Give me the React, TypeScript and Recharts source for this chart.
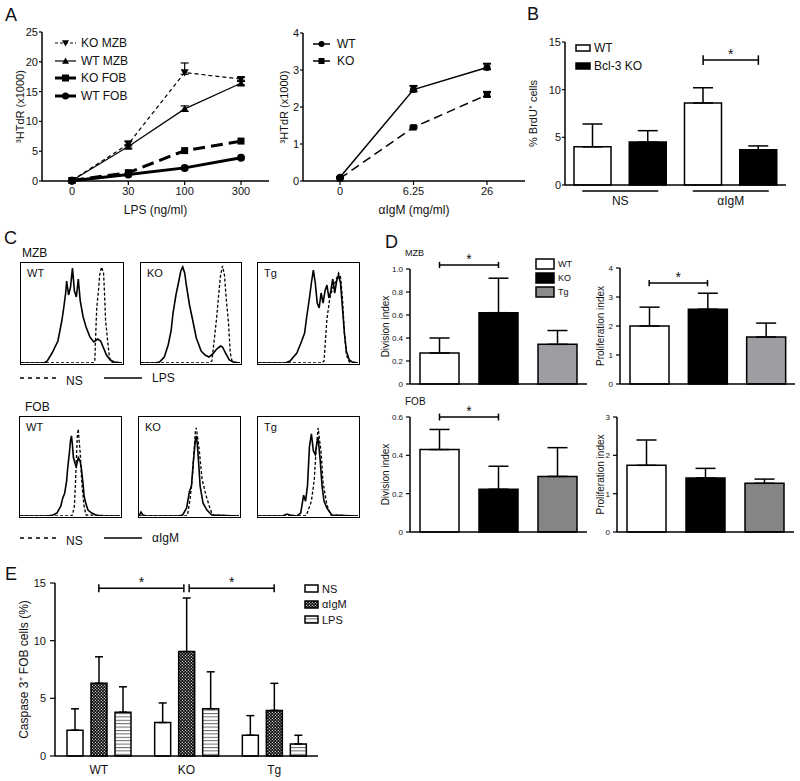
import React from "react";
import {
  Bar,
  BarChart,
  Cell,
  ErrorBar,
  Legend,
  Line,
  LineChart,
  ReferenceLine,
  XAxis,
  YAxis,
} from "recharts";

const FONT = "'Liberation Sans', Arial, Helvetica, sans-serif";

// ---------- A: 3H-thymidine uptake ----------
const lpsDoses = ["0", "30", "100", "300"];
const koMzb = [0.1, 6.2, 18.2, 17.1];
const koMzbErr = [[0, 0], [0.3, 0.5], [0.3, 1.6], [0.2, 0.3]];
const wtMzb = [0.1, 5.8, 12.1, 16.4];
const wtMzbErr = [[0, 0], [0.3, 0.3], [0.4, 0.5], [0.3, 0.3]];
const koFob = [0.1, 1.4, 5.1, 6.7];
const wtFob = [0.05, 1.1, 2.2, 3.9];

const igmDoses = ["0", "6.25", "26"];
const wtIgm = [0.1, 2.47, 3.07];
const wtIgmErr = [[0, 0], [0.05, 0.1], [0.05, 0.1]];
const koIgm = [0.07, 1.45, 2.33];
const koIgmErr = [[0, 0], [0.02, 0.03], [0.05, 0.08]];

// ---------- B: BrdU ----------
const brduCats = ["WT NS", "KO NS", "WT αIgM", "KO αIgM"];
const brduGroup = ["NS", "NS", "αIgM", "αIgM"];
const brduGenotype = ["WT", "KO", "WT", "KO"];
const brduMean = [4.0, 4.5, 8.6, 3.7];
const brduErr = [2.4, 1.2, 1.6, 0.4];

// ---------- C: CFSE histograms (x, % of max) ----------
const mzbWtNs = [[0, 0], [74, 0], [76, 2], [77, 30], [78, 55], [80, 75], [81, 88], [83, 96], [85, 90], [86, 70], [87, 44], [89, 24], [91, 6], [93, 1], [104, 0]];
const mzbWtLps = [[0, 0], [24, 0], [27, 2], [32, 10], [38, 22], [42, 42], [44, 55], [46, 70], [47, 82], [49, 68], [51, 76], [53, 95], [55, 72], [57, 66], [59, 84], [61, 62], [64, 46], [67, 36], [71, 26], [75, 21], [79, 24], [82, 22], [85, 15], [88, 8], [92, 3], [96, 1], [104, 0]];
const mzbKoNs = [[0, 0], [70, 0], [73, 2], [76, 28], [78, 46], [80, 68], [82, 88], [84, 97], [86, 88], [88, 62], [90, 42], [92, 10], [94, 1], [102, 0]];
const mzbKoLps = [[0, 0], [14, 0], [19, 1], [24, 6], [28, 18], [31, 32], [33, 50], [36, 68], [39, 82], [41, 92], [43, 96], [45, 90], [47, 76], [50, 58], [53, 44], [57, 25], [62, 12], [66, 8], [70, 6], [74, 9], [78, 14], [82, 17], [84, 16], [87, 10], [91, 3], [95, 1], [102, 0]];
const mzbTgNs = [[0, 0], [66, 0], [68, 2], [71, 44], [74, 65], [77, 75], [80, 82], [83, 90], [85, 86], [87, 65], [89, 30], [91, 8], [94, 1], [103, 0]];
const mzbTgLps = [[0, 0], [28, 0], [33, 2], [40, 10], [45, 22], [48, 30], [50, 45], [53, 65], [55, 80], [57, 93], [59, 80], [61, 60], [63, 55], [65, 70], [67, 60], [69, 72], [71, 78], [73, 65], [75, 72], [77, 84], [79, 70], [81, 82], [83, 88], [85, 80], [87, 55], [89, 30], [91, 12], [94, 3], [97, 1], [103, 0]];
const fobWtNs = [[0, 0], [52, 0], [54, 1], [56, 10], [57, 30], [58, 57], [59, 80], [60, 88], [61, 75], [62, 64], [63, 45], [64, 30], [66, 10], [68, 1], [103, 0]];
const fobWtIgm = [[0, 0], [28, 0], [34, 1], [38, 3], [42, 10], [44, 18], [46, 23], [48, 35], [49, 47], [51, 65], [52, 76], [53, 81], [54, 72], [55, 59], [57, 52], [58, 50], [60, 59], [62, 55], [63, 50], [65, 32], [66, 20], [68, 12], [70, 6], [74, 3], [78, 1], [85, 0], [103, 0]];
const fobKoNs = [[0, 0], [48, 0], [50, 1], [53, 20], [55, 40], [57, 70], [58, 85], [59, 89], [60, 82], [62, 67], [65, 37], [69, 21], [73, 8], [76, 1], [103, 0]];
const fobKoIgm = [[0, 0], [2, 4], [4, 1], [8, 0], [40, 0], [45, 1], [49, 8], [52, 25], [54, 30], [56, 55], [58, 76], [59, 81], [60, 73], [61, 60], [63, 30], [66, 13], [70, 6], [75, 1], [103, 0]];
const fobTgNs = [[0, 0], [48, 0], [50, 1], [55, 15], [58, 37], [60, 70], [62, 89], [63, 80], [65, 64], [67, 34], [71, 11], [75, 1], [103, 0]];
const fobTgIgm = [[0, 0], [25, 0], [30, 2], [33, 1], [40, 0], [44, 3], [46, 15], [47, 21], [49, 15], [51, 31], [53, 70], [55, 83], [57, 66], [59, 62], [61, 76], [62, 78], [64, 57], [66, 30], [68, 15], [71, 8], [76, 1], [103, 0]];
const histXTicks = [4, 12, 16, 19, 21, 23, 24, 26, 27, 35, 39, 42, 44, 46, 47, 49, 50, 58, 62, 65, 67, 69, 70, 72, 73, 81, 85, 88, 90, 92, 93, 95, 96];
const histYTicks = [20, 40, 60, 80];

// ---------- D: division / proliferation index ----------
const dGenotypes = ["WT", "KO", "Tg"];
const mzbDiv = [0.27, 0.62, 0.345];
const mzbDivErr = [0.13, 0.3, 0.12];
const mzbProlif = [2.0, 2.58, 1.62];
const mzbProlifErr = [0.65, 0.55, 0.48];
const fobDiv = [0.43, 0.223, 0.29];
const fobDivErr = [0.105, 0.12, 0.15];
const fobProlif = [1.74, 1.41, 1.27];
const fobProlifErr = [0.66, 0.25, 0.11];

// ---------- E: caspase 3 ----------
const casGroups = ["WT", "KO", "Tg"];
const casPos = [0.5, 1.5, 2.5];
const casNs = [2.24, 2.9, 1.8];
const casNsErr = [1.85, 1.7, 1.7];
const casIgm = [6.3, 9.05, 3.95];
const casIgmErr = [2.3, 4.65, 2.35];
const casLps = [3.8, 4.1, 1.05];
const casLpsErr = [2.2, 3.2, 0.75];

const lpsData = lpsDoses.map((dose, i) => ({
  dose,
  koMzb: koMzb[i],
  koMzbErr: koMzbErr[i],
  wtMzb: wtMzb[i],
  wtMzbErr: wtMzbErr[i],
  koFob: koFob[i],
  wtFob: wtFob[i],
}));
const igmData = igmDoses.map((dose, i) => ({
  dose,
  wt: wtIgm[i],
  wtErr: wtIgmErr[i],
  ko: koIgm[i],
  koErr: koIgmErr[i],
}));
const brduData = brduCats.map((cat, i) => ({
  cat,
  group: brduGroup[i],
  geno: brduGenotype[i],
  v: brduMean[i],
  e: [0, brduErr[i]],
}));
const casData = casGroups.map((g, i) => ({
  g,
  pos: casPos[i],
  ns: casNs[i],
  nsErr: [0, casNsErr[i]],
  igm: casIgm[i],
  igmErr: [0, casIgmErr[i]],
  lps: casLps[i],
  lpsErr: [0, casLpsErr[i]],
}));
const indexData = (vals: number[], errs: number[]) =>
  dGenotypes.map((g, i) => ({ g, v: vals[i], e: [0, errs[i]] }));
const pts = (arr: number[][]) => arr.map(([x, y]) => ({ x, y }));

const axisLine = { stroke: "#000", strokeWidth: 1.5 };
const tickLine = { stroke: "#000", strokeWidth: 1.2 };
const tickText = (size: number) => ({ fontSize: size, fill: "#111", fontFamily: FONT });
const yLabel = (value: string, offset: number, size: number) => ({
  value,
  angle: -90,
  position: "insideLeft",
  offset,
  style: { textAnchor: "middle", fontSize: size, fontFamily: FONT, fill: "#111" },
});
const starLabel = { value: "*", position: "top", offset: 1, style: { fontSize: 14, fontFamily: FONT, fill: "#111" } };

function Marker({ kind, cx, cy, s }: any) {
  if (kind === "circle") return <circle cx={cx} cy={cy} r={s} fill="#000" />;
  if (kind === "square") return <rect x={cx - s} y={cy - s} width={2 * s} height={2 * s} fill="#000" />;
  if (kind === "up")
    return <path d={`M${cx},${cy - s} L${cx + s},${cy + s * 0.8} L${cx - s},${cy + s * 0.8}Z`} fill="#000" />;
  return <path d={`M${cx},${cy + s} L${cx + s},${cy - s * 0.8} L${cx - s},${cy - s * 0.8}Z`} fill="#000" />;
}

const dot = (kind: string, s: number) => (p: any) => {
  const { cx, cy, index } = p;
  const key = `${kind}-${index}`;
  if (cx == null || cy == null) return <g key={key} />;
  return (
    <g key={key}>
      <Marker kind={kind} cx={cx} cy={cy} s={s} />
    </g>
  );
};

const Txt = ({ x, y, size, children }: any) => (
  <div
    style={{
      position: "absolute",
      left: x,
      top: y,
      fontSize: size,
      fontFamily: FONT,
      lineHeight: 1,
      whiteSpace: "nowrap",
      color: "#111",
    }}
  >
    {children}
  </div>
);

function LineKey({ rows, lineW, rowH, size }: any) {
  return (
    <div style={{ fontFamily: FONT, fontSize: size, color: "#111" }}>
      {rows.map((r: any) => (
        <div key={r.name} style={{ display: "flex", alignItems: "center", height: rowH }}>
          <svg width={lineW} height={12} style={{ marginRight: r.gap }}>
            <line x1={0} x2={lineW} y1={6} y2={6} stroke="#000" strokeWidth={r.w} strokeDasharray={r.dash} />
            <Marker kind={r.marker} cx={lineW / 2} cy={6} s={r.s} />
          </svg>
          <span>{r.name}</span>
        </div>
      ))}
    </div>
  );
}

function BoxKey({ rows, boxW, boxH, rowH, size, gap }: any) {
  return (
    <div style={{ fontFamily: FONT, fontSize: size, color: "#111" }}>
      {rows.map((r: any) => (
        <div key={r.name} style={{ display: "flex", alignItems: "center", height: rowH }}>
          <svg width={boxW + 2} height={boxH + 2} style={{ marginRight: gap }}>
            <rect x={1} y={1} width={boxW} height={boxH} fill={r.fill} stroke="#000" strokeWidth={1.5} />
          </svg>
          <span>{r.name}</span>
        </div>
      ))}
    </div>
  );
}

const keepLayout = { layout: "vertical" as const, verticalAlign: "middle" as const, align: "center" as const };

function LpsChart() {
  return (
    <LineChart width={280} height={230} data={lpsData} margin={{ top: 32, right: 11, bottom: 0, left: 0 }}>
      <XAxis
        dataKey="dose"
        padding={{ left: 30, right: 28 }}
        height={49}
        axisLine={axisLine}
        tickLine={tickLine}
        tickSize={4}
        tickMargin={2}
        tick={tickText(11)}
        label={{ value: "LPS (ng/ml)", position: "insideBottom", offset: 16, style: { fontSize: 12, fontFamily: FONT, fill: "#111" } }}
      />
      <YAxis
        width={42}
        domain={[0, 25]}
        ticks={[0, 5, 10, 15, 20, 25]}
        interval={0}
        axisLine={axisLine}
        tickLine={tickLine}
        tickSize={3}
        tickMargin={1}
        tick={tickText(11)}
        label={yLabel("³HTdR (x1000)", 20, 11)}
      />
      <Line dataKey="wtFob" stroke="#000" strokeWidth={3} dot={dot("circle", 4)} isAnimationActive={false} />
      <Line dataKey="koFob" stroke="#000" strokeWidth={3} strokeDasharray="12 6" dot={dot("square", 3.5)} isAnimationActive={false} />
      <Line dataKey="wtMzb" stroke="#000" strokeWidth={1.2} dot={dot("up", 4)} isAnimationActive={false}>
        <ErrorBar dataKey="wtMzbErr" width={4} stroke="#000" strokeWidth={1.2} direction="y" />
      </Line>
      <Line dataKey="koMzb" stroke="#000" strokeWidth={1.2} strokeDasharray="4 3" dot={dot("down", 4)} isAnimationActive={false}>
        <ErrorBar dataKey="koMzbErr" width={4} stroke="#000" strokeWidth={1.2} direction="y" />
      </Line>
      <Legend
        {...keepLayout}
        wrapperStyle={{ left: 55, top: 34, width: 120 }}
        content={() => (
          <LineKey
            lineW={21}
            rowH={17.7}
            size={12}
            rows={[
              { name: "KO MZB", w: 1.2, dash: "3 2", marker: "down", s: 3.5, gap: 5 },
              { name: "WT MZB", w: 1.2, marker: "up", s: 3.5, gap: 5 },
              { name: "KO FOB", w: 3, marker: "square", s: 3.5, gap: 5 },
              { name: "WT FOB", w: 3, marker: "circle", s: 3.5, gap: 5 },
            ]}
          />
        )}
      />
    </LineChart>
  );
}

function IgmChart() {
  return (
    <LineChart width={270} height={230} data={igmData} margin={{ top: 33, right: 15, bottom: 0, left: 0 }}>
      <XAxis
        dataKey="dose"
        padding={{ left: 37, right: 38 }}
        height={49}
        axisLine={axisLine}
        tickLine={tickLine}
        tickSize={4}
        tickMargin={2}
        tick={tickText(11)}
        label={{ value: "αIgM (mg/ml)", position: "insideBottom", offset: 16, style: { fontSize: 12, fontFamily: FONT, fill: "#111" } }}
      />
      <YAxis
        width={33}
        domain={[0, 4]}
        ticks={[0, 1, 2, 3, 4]}
        interval={0}
        axisLine={axisLine}
        tickLine={tickLine}
        tickSize={3}
        tickMargin={1}
        tick={tickText(11)}
        label={yLabel("³HTdR (x1000)", 14, 11)}
      />
      <Line dataKey="wt" stroke="#000" strokeWidth={1.5} dot={dot("circle", 3.5)} isAnimationActive={false}>
        <ErrorBar dataKey="wtErr" width={4} stroke="#000" strokeWidth={2} direction="y" />
      </Line>
      <Line dataKey="ko" stroke="#000" strokeWidth={1.5} strokeDasharray="9 5" dot={dot("square", 3.2)} isAnimationActive={false}>
        <ErrorBar dataKey="koErr" width={4} stroke="#000" strokeWidth={2} direction="y" />
      </Line>
      <Legend
        {...keepLayout}
        wrapperStyle={{ left: 43, top: 35, width: 80 }}
        content={() => (
          <LineKey
            lineW={17}
            rowH={17}
            size={12}
            rows={[
              { name: "WT", w: 1.5, marker: "circle", s: 3, gap: 7 },
              { name: "KO", w: 1.5, marker: "square", s: 3, gap: 7 },
            ]}
          />
        )}
      />
    </LineChart>
  );
}

const GroupTick = (p: any) => {
  const { x, y, payload } = p;
  return (
    <g>
      <line x1={x - 38} x2={x + 38} y1={y + 1} y2={y + 1} stroke="#000" strokeWidth={1.5} />
      <text x={x} y={y + 15} textAnchor="middle" fontSize={12} fontFamily={FONT} fill="#111">
        {payload.value}
      </text>
    </g>
  );
};

function BrduChart() {
  return (
    <BarChart width={275} height={230} data={brduData} margin={{ top: 42, right: 14, bottom: 0, left: 0 }} barSize={37}>
      <XAxis dataKey="cat" height={5} axisLine={axisLine} tickLine={tickLine} tickSize={4} tick={false} />
      <XAxis
        xAxisId="grp"
        dataKey="group"
        allowDuplicatedCategory={false}
        height={40}
        axisLine={false}
        tickLine={false}
        tickSize={0}
        tickMargin={0}
        tick={GroupTick}
      />
      <YAxis
        width={40}
        domain={[0, 15]}
        ticks={[0, 5, 10, 15]}
        interval={0}
        axisLine={axisLine}
        tickLine={tickLine}
        tickSize={3}
        tickMargin={1}
        tick={tickText(11)}
        label={yLabel("% BrdU⁺ cells", 8, 11)}
      />
      <Bar dataKey="v" stroke="#000" strokeWidth={1.5} isAnimationActive={false}>
        {brduData.map((d) => (
          <Cell key={d.cat} fill={d.geno === "WT" ? "#fff" : "#000"} />
        ))}
        <ErrorBar dataKey="e" width={10} stroke="#000" strokeWidth={1.5} direction="y" />
      </Bar>
      <ReferenceLine segment={[{ x: "WT αIgM", y: 13.1 }, { x: "KO αIgM", y: 13.1 }]} stroke="#000" strokeWidth={1.5} ifOverflow="visible" label={starLabel} />
      <ReferenceLine segment={[{ x: "WT αIgM", y: 12.6 }, { x: "WT αIgM", y: 13.6 }]} stroke="#000" strokeWidth={1.5} ifOverflow="visible" />
      <ReferenceLine segment={[{ x: "KO αIgM", y: 12.6 }, { x: "KO αIgM", y: 13.6 }]} stroke="#000" strokeWidth={1.5} ifOverflow="visible" />
      <Legend
        {...keepLayout}
        wrapperStyle={{ left: 50, top: 39, width: 110 }}
        content={() => (
          <BoxKey
            boxW={14}
            boxH={6}
            rowH={18}
            size={12}
            gap={3}
            rows={[
              { name: "WT", fill: "#fff" },
              { name: "Bcl-3 KO", fill: "#000" },
            ]}
          />
        )}
      />
    </BarChart>
  );
}

function Histogram({ box, label, ns, stim }: any) {
  const [left, top, w, h] = box;
  return (
    <div
      style={{
        position: "absolute",
        left,
        top,
        width: w,
        height: h,
        border: "1.5px solid #000",
        boxSizing: "border-box",
      }}
    >
      <LineChart width={w - 3} height={h - 3} margin={{ top: 0, right: 0, bottom: 0, left: 0 }}>
        <XAxis
          type="number"
          dataKey="x"
          domain={[0, w]}
          ticks={histXTicks}
          tick={false}
          axisLine={false}
          tickLine={{ stroke: "#000", strokeWidth: 1 }}
          tickSize={2.5}
          mirror
          height={8}
          allowDataOverflow
        />
        <YAxis
          type="number"
          domain={[0, 100]}
          ticks={histYTicks}
          tick={false}
          axisLine={false}
          tickLine={{ stroke: "#000", strokeWidth: 1 }}
          tickSize={2.5}
          mirror
          width={8}
          allowDataOverflow
        />
        <Line data={pts(ns)} dataKey="y" type="linear" stroke="#000" strokeWidth={1.3} strokeDasharray="3 2" dot={false} isAnimationActive={false} />
        <Line data={pts(stim)} dataKey="y" type="linear" stroke="#000" strokeWidth={1.6} dot={false} isAnimationActive={false} />
      </LineChart>
      <div style={{ position: "absolute", left: 6, top: 5, fontSize: 11, fontFamily: FONT, lineHeight: 1, color: "#111" }}>{label}</div>
    </div>
  );
}

function HistKey({ left, top, stim }: any) {
  return (
    <div style={{ position: "absolute", left, top, display: "flex", alignItems: "center", fontFamily: FONT, fontSize: 12, color: "#111", height: 12 }}>
      <svg width={40} height={6} style={{ marginRight: 6 }}>
        <line x1={0} x2={40} y1={3} y2={3} stroke="#000" strokeWidth={1.3} strokeDasharray="4 4" />
      </svg>
      <span style={{ marginTop: 6, width: 38 }}>NS</span>
      <svg width={38} height={6} style={{ marginRight: 10 }}>
        <line x1={0} x2={38} y1={3} y2={3} stroke="#000" strokeWidth={1.3} />
      </svg>
      <span>{stim}</span>
    </div>
  );
}

const indexFill = (g: string, tg: string) => (g === "WT" ? "#fff" : g === "KO" ? "#000" : tg);

function IndexChart({ width, height, margin, yWidth, xHeight, data, domain, ticks, tg, label, labelOffset, bracketY, cap, decimals, children }: any) {
  return (
    <BarChart width={width} height={height} data={data} margin={margin} barSize={39}>
      <XAxis dataKey="g" height={xHeight} axisLine={axisLine} tickLine={tickLine} tickSize={3} tick={false} />
      <YAxis
        width={yWidth}
        domain={domain}
        ticks={ticks}
        interval={0}
        axisLine={axisLine}
        tickLine={tickLine}
        tickSize={4}
        tickMargin={3}
        tick={tickText(8)}
        tickFormatter={(v: number) => (v === 0 || !decimals ? String(v) : v.toFixed(1))}
        label={yLabel(label, labelOffset, 10)}
      />
      <Bar dataKey="v" stroke="#000" strokeWidth={1.5} isAnimationActive={false}>
        {data.map((d: any) => (
          <Cell key={d.g} fill={indexFill(d.g, tg)} />
        ))}
        <ErrorBar dataKey="e" width={10} stroke="#000" strokeWidth={1.5} direction="y" />
      </Bar>
      {bracketY != null && (
        <ReferenceLine segment={[{ x: "WT", y: bracketY }, { x: "KO", y: bracketY }]} stroke="#000" strokeWidth={1.5} ifOverflow="visible" label={starLabel} />
      )}
      {bracketY != null && (
        <ReferenceLine segment={[{ x: "WT", y: bracketY - cap }, { x: "WT", y: bracketY + cap }]} stroke="#000" strokeWidth={1.5} ifOverflow="visible" />
      )}
      {bracketY != null && (
        <ReferenceLine segment={[{ x: "KO", y: bracketY - cap }, { x: "KO", y: bracketY + cap }]} stroke="#000" strokeWidth={1.5} ifOverflow="visible" />
      )}
      {children}
    </BarChart>
  );
}

function CaspaseChart() {
  const seg = (x1: number, x2: number, y: number) => [
    { x: x1, y },
    { x: x2, y },
  ];
  return (
    <BarChart width={400} height={221} data={casData} margin={{ top: 23, right: 82, bottom: 0, left: 0 }} barSize={16} barGap={8}>
      <defs>
        <pattern id="casChk" patternUnits="userSpaceOnUse" width="3" height="3">
          <rect width="3" height="3" fill="#000" />
          <rect x="0.3" y="0.3" width="1.1" height="1.1" fill="#fff" />
          <rect x="1.8" y="1.8" width="1.1" height="1.1" fill="#fff" />
        </pattern>
        <pattern id="casStr" patternUnits="userSpaceOnUse" width="4" height="3.4">
          <rect width="4" height="3.4" fill="#fff" />
          <rect y="0" width="4" height="1" fill="#666" />
        </pattern>
      </defs>
      <XAxis dataKey="g" height={25} axisLine={axisLine} tickLine={false} tickSize={0} tickMargin={9} tick={tickText(12)} />
      <XAxis xAxisId="n" type="number" dataKey="pos" domain={[0, 3]} hide />
      <YAxis
        width={55}
        domain={[0, 15]}
        ticks={[0, 5, 10, 15]}
        interval={0}
        axisLine={axisLine}
        tickLine={tickLine}
        tickSize={5}
        tickMargin={4}
        tick={tickText(11)}
        label={yLabel("Caspase 3⁺ FOB cells (%)", 24, 12)}
      />
      <Bar dataKey="ns" fill="#fff" stroke="#000" strokeWidth={1.5} isAnimationActive={false}>
        <ErrorBar dataKey="nsErr" width={4} stroke="#000" strokeWidth={1.5} direction="y" />
      </Bar>
      <Bar dataKey="igm" fill="url(#casChk)" stroke="#000" strokeWidth={1.5} isAnimationActive={false}>
        <ErrorBar dataKey="igmErr" width={4} stroke="#000" strokeWidth={1.5} direction="y" />
      </Bar>
      <Bar dataKey="lps" fill="url(#casStr)" stroke="#000" strokeWidth={1.5} isAnimationActive={false}>
        <ErrorBar dataKey="lpsErr" width={4} stroke="#000" strokeWidth={1.5} direction="y" />
      </Bar>
      <ReferenceLine xAxisId="n" segment={seg(0.5, 1.47, 14.55)} stroke="#000" strokeWidth={1.5} ifOverflow="visible" label={starLabel} />
      <ReferenceLine xAxisId="n" segment={seg(1.53, 2.5, 14.55)} stroke="#000" strokeWidth={1.5} ifOverflow="visible" label={starLabel} />
      {[0.5, 1.47, 1.53, 2.5].map((x) => (
        <ReferenceLine key={x} xAxisId="n" segment={[{ x, y: 14.2 }, { x, y: 14.9 }]} stroke="#000" strokeWidth={1.5} ifOverflow="visible" />
      ))}
      <Legend
        {...keepLayout}
        wrapperStyle={{ left: 304, top: 21, width: 80 }}
        content={() => (
          <BoxKey
            boxW={13}
            boxH={7}
            rowH={15.5}
            size={11}
            gap={3}
            rows={[
              { name: "NS", fill: "#fff" },
              { name: "αIgM", fill: "url(#casChk)" },
              { name: "LPS", fill: "url(#casStr)" },
            ]}
          />
        )}
      />
    </BarChart>
  );
}

export default function App() {
  return (
    <div style={{ position: "absolute", left: 0, top: 0, width: 800, height: 781, background: "#fff", overflow: "hidden" }}>
      <Txt x={5} y={6} size={18}>A</Txt>
      <Txt x={527} y={5} size={18}>B</Txt>
      <Txt x={4} y={229} size={18}>C</Txt>
      <Txt x={385} y={233} size={18}>D</Txt>
      <Txt x={5} y={565} size={18}>E</Txt>

      <div style={{ position: "absolute", left: 0, top: 0 }}>
        <LpsChart />
      </div>
      <div style={{ position: "absolute", left: 270, top: 0 }}>
        <IgmChart />
      </div>
      <div style={{ position: "absolute", left: 525, top: 0 }}>
        <BrduChart />
      </div>

      <Txt x={22} y={247} size={12}>MZB</Txt>
      <Histogram box={[20, 262, 104, 103]} label="WT" ns={mzbWtNs} stim={mzbWtLps} />
      <Histogram box={[140, 262, 102, 103]} label="KO" ns={mzbKoNs} stim={mzbKoLps} />
      <Histogram box={[257, 262, 103, 103]} label="Tg" ns={mzbTgNs} stim={mzbTgLps} />
      <HistKey left={20} top={372} stim="LPS" />
      <Txt x={25} y={401} size={12}>FOB</Txt>
      <Histogram box={[19, 416, 103, 102]} label="WT" ns={fobWtNs} stim={fobWtIgm} />
      <Histogram box={[138, 416, 103, 102]} label="KO" ns={fobKoNs} stim={fobKoIgm} />
      <Histogram box={[257, 416, 103, 102]} label="Tg" ns={fobTgNs} stim={fobTgIgm} />
      <HistKey left={20} top={532} stim="αIgM" />

      <Txt x={405} y={249} size={9}>MZB</Txt>
      <Txt x={405} y={397} size={10}>FOB</Txt>
      <div style={{ position: "absolute", left: 340, top: 230 }}>
        <IndexChart
          width={250}
          height={170}
          margin={{ top: 39, right: 3, bottom: 0, left: 0 }}
          yWidth={70}
          xHeight={16}
          data={indexData(mzbDiv, mzbDivErr)}
          domain={[0, 1]}
          ticks={[0, 0.2, 0.4, 0.6, 0.8, 1.0]}
          decimals
          tg="#9e9ea2"
          label="Division index"
          labelOffset={45}
          bracketY={1.035}
          cap={0.027}
        >
          <Legend
            {...keepLayout}
            wrapperStyle={{ left: 195, top: 27, width: 50 }}
            content={() => (
              <BoxKey
                boxW={18}
                boxH={10}
                rowH={14}
                size={9}
                gap={3}
                rows={[
                  { name: "WT", fill: "#fff" },
                  { name: "KO", fill: "#000" },
                  { name: "Tg", fill: "#8c8c8c" },
                ]}
              />
            )}
          />
        </IndexChart>
      </div>
      <div style={{ position: "absolute", left: 590, top: 230 }}>
        <IndexChart
          width={210}
          height={170}
          margin={{ top: 38, right: 5, bottom: 0, left: 0 }}
          yWidth={30}
          xHeight={16}
          data={indexData(mzbProlif, mzbProlifErr)}
          domain={[0, 4]}
          ticks={[0, 1, 2, 3, 4]}
          tg="#9e9ea2"
          label="Proliferation index"
          labelOffset={10}
          bracketY={3.48}
          cap={0.11}
        />
      </div>
      <div style={{ position: "absolute", left: 340, top: 395 }}>
        <IndexChart
          width={250}
          height={155}
          margin={{ top: 22, right: 3, bottom: 0, left: 0 }}
          yWidth={70}
          xHeight={18}
          data={indexData(fobDiv, fobDivErr)}
          domain={[0, 0.6]}
          ticks={[0, 0.2, 0.4, 0.6]}
          decimals
          tg="#858585"
          label="Division index"
          labelOffset={45}
          bracketY={0.6}
          cap={0.018}
        />
      </div>
      <div style={{ position: "absolute", left: 590, top: 395 }}>
        <IndexChart
          width={210}
          height={155}
          margin={{ top: 22, right: 6, bottom: 0, left: 0 }}
          yWidth={27}
          xHeight={18}
          data={indexData(fobProlif, fobProlifErr)}
          domain={[0, 3]}
          ticks={[0, 1, 2, 3]}
          tg="#858585"
          label="Proliferation index"
          labelOffset={10}
        />
      </div>

      <div style={{ position: "absolute", left: 0, top: 560 }}>
        <CaspaseChart />
      </div>
    </div>
  );
}
